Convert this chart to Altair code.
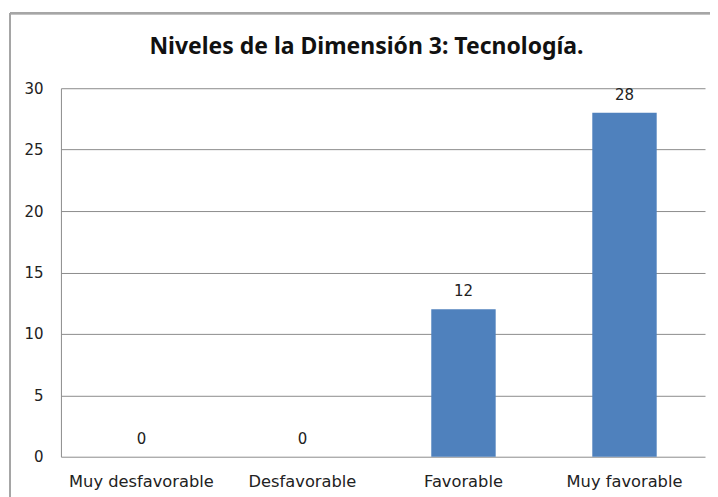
import altair as alt
import pandas as pd

categories = ["Muy desfavorable", "Desfavorable", "Favorable", "Muy favorable"]
values = [0, 0, 12, 28]
y_ticks = [0, 5, 10, 15, 20, 25, 30]
title_text = ["Niveles de la Dimensión 3: Tecnología."]

df = pd.DataFrame({"cat": categories, "val": values})

FONT = "DejaVu Sans"
TFONT = "Noto Sans"
W, H = 645, 369

base = alt.Chart(df)

x_enc = alt.X("cat:N", sort=categories, title=None,
              scale=alt.Scale(paddingInner=0.6, paddingOuter=0.3),
              axis=alt.Axis(labelAngle=0, labelFontSize=16.3, labelColor="#222222",
                            labelFont=FONT, ticks=False, domain=False, labelPadding=17,
                            grid=False))
y_enc = alt.Y("val:Q", title=None,
              scale=alt.Scale(domain=[0, 30], nice=False),
              axis=alt.Axis(values=y_ticks, labelFontSize=15, labelColor="#222222",
                            labelFont=FONT, ticks=False, domain=True, domainColor="#8c8c8c",
                            labelPadding=18, gridColor="#8c8c8c", gridWidth=1))

bars = base.mark_bar(color="#4F81BD").encode(x=x_enc, y=y_enc)

labels = base.mark_text(baseline="bottom", dy=-10, fontSize=15, font=FONT,
                        color="#222222").encode(
    x=alt.X("cat:N", sort=categories),
    y="val:Q", text="val:Q")

title = alt.Chart(pd.DataFrame({"t": title_text})).mark_text(
    font=TFONT, fontSize=23, fontWeight="bold", color="#111111",
    align="center", baseline="middle", clip=False).encode(
    x=alt.value(306), y=alt.value(-41), text="t:N")

border_top = base.mark_rule(color="#a6a6a6", strokeWidth=2, clip=False).encode(
    x=alt.value(-51), x2=alt.value(W + 20), y=alt.value(-75))
border_left = base.mark_rule(color="#a6a6a6", strokeWidth=2, clip=False).encode(
    x=alt.value(-51), y=alt.value(-75), y2=alt.value(H + 60))

chart = alt.layer(bars, labels, title, border_top, border_left).properties(
    width=W, height=H,
    autosize=alt.AutoSizeParams(type="none"),
    padding={"left": 53, "top": 80, "right": 5, "bottom": 40},
).configure_view(stroke=None).configure_axis(gridColor="#8c8c8c")

chart.save("out.html", embed_options={"renderer": "svg", "actions": False})
